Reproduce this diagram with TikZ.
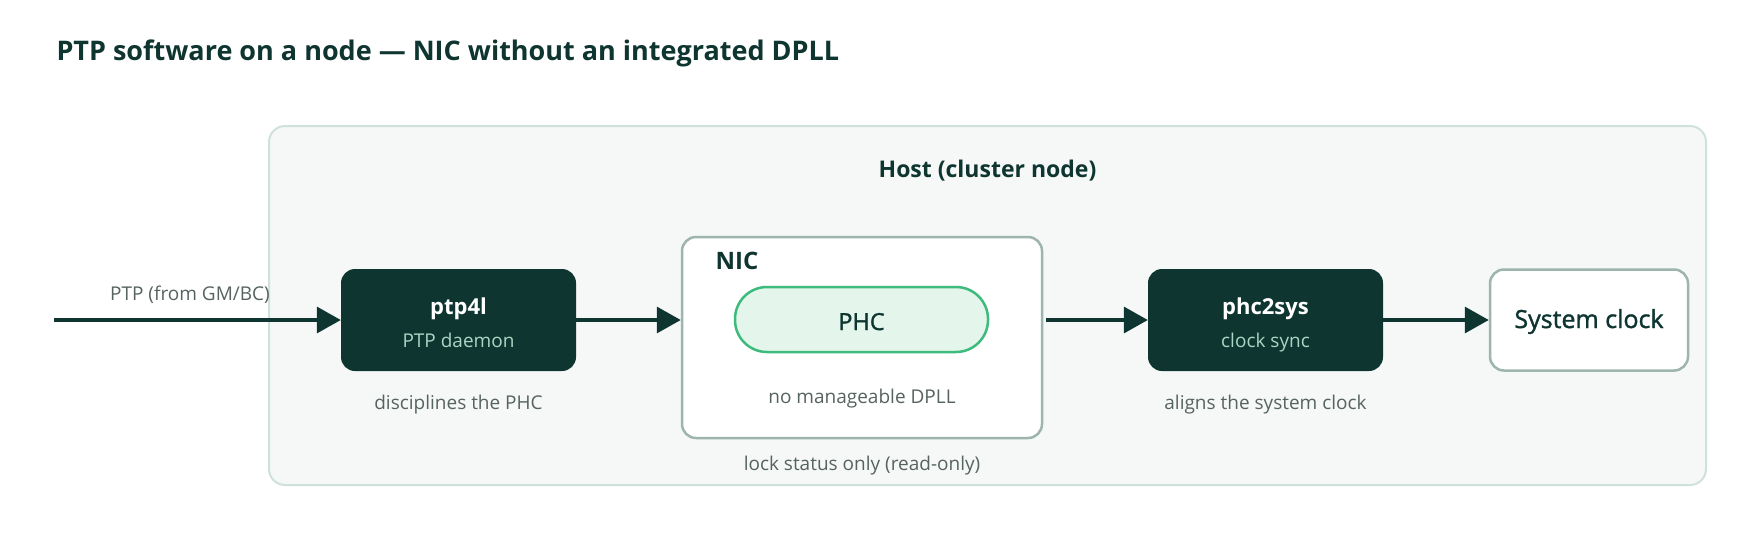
\documentclass[tikz,border=0pt]{standalone}
\usepackage{fontspec}
\setmainfont{Open Sans}
\newfontfamily\medfont{Open Sans}[FakeBold=1.4]
\usetikzlibrary{arrows.meta}
\definecolor{deep}{HTML}{0E3530}
\definecolor{notegray}{HTML}{56635F}
\definecolor{mint}{HTML}{A9D6C2}
\definecolor{hostfill}{HTML}{F5F8F7}
\definecolor{hostline}{HTML}{CFE2DA}
\definecolor{boxline}{HTML}{9DB5AC}
\definecolor{phcfill}{HTML}{E4F6EC}
\definecolor{phcline}{HTML}{3DBB7D}

\begin{document}
\begin{tikzpicture}
  [x=1pt,y=-1pt,
   darkbox/.style={fill=deep,rounded corners=14pt,minimum width=235pt,minimum height=102pt,inner sep=0pt},
   lightbox/.style={fill=white,draw=boxline,line width=2.5pt,rounded corners=14pt,inner sep=0pt},
   boxname/.style={anchor=base,text=white,font=\fontsize{22}{22}\bfseries},
   boxsub/.style={anchor=base,text=mint,font=\fontsize{19}{19}\selectfont},
   heading/.style={anchor=base,text=deep,font=\fontsize{23}{23}\bfseries},
   note/.style={anchor=base,text=notegray,font=\fontsize{19}{19}\selectfont},
   flow/.style={draw=deep,line width=3.5pt,-{Triangle[length=24pt,width=26pt]}}]
  \useasboundingbox (0,0) rectangle (1760,539);

  \node[anchor=base west,text=deep,font=\fontsize{27}{27}\bfseries] (title) at (53,60)
    {PTP software on a node — NIC without an integrated DPLL};

  \node[fill=hostfill,draw=hostline,line width=2pt,rounded corners=16pt,
        minimum width=1437pt,minimum height=359pt] (host) at (987.5,305.5) {};
  \node[heading] (hostname) at (987.5,177) {Host (cluster node)};

  \node[darkbox] (ptp4l) at (458.5,320) {};
  \node[boxname] (ptp4lname) at (458.5,314) {ptp4l};
  \node[boxsub] (ptp4lsub) at (458.5,347) {PTP daemon};
  \node[note] (ptp4lnote) at (458.5,409) {disciplines the PHC};

  \node[lightbox,minimum width=360pt,minimum height=201pt] (nic) at (862,337.5) {};
  \node[heading,anchor=base west,font=\fontsize{24}{24}\bfseries] (nicname) at (712,269) {NIC};
  \node[fill=phcfill,draw=phcline,line width=2.5pt,rounded corners=32pt,
        minimum width=253pt,minimum height=65pt] (phc) at (861.5,319.5) {};
  \node[anchor=base,text=deep,font=\fontsize{23.5}{23.5}\medfont] (phcname) at (861.5,330) {PHC};
  \node[note] (nicnote) at (862,403) {no manageable DPLL};
  \node[note] (locknote) at (862,470) {lock status only (read-only)};

  \node[darkbox] (phc2sys) at (1265.5,320) {};
  \node[boxname] (phc2sysname) at (1265.5,314) {phc2sys};
  \node[boxsub] (phc2syssub) at (1265.5,347) {clock sync};
  \node[note] (phc2sysnote) at (1265.5,409) {aligns the system clock};

  \node[lightbox,minimum width=198pt,minimum height=101pt] (sysclk) at (1589,320) {};
  \node[anchor=base,text=deep,font=\fontsize{25}{25}\medfont] (sysclkname) at (1589,328) {System clock};

  \coordinate (gm) at (54,320);
  \node[note] (gmnote) at (190,300) {PTP (from GM/BC)};

  \draw[flow] (gm) -- (ptp4l);
  \draw[flow] (ptp4l) -- (ptp4l.east -| nic.west);
  \draw[flow] ([xshift=3pt]nic.east |- phc2sys.west) -- (phc2sys);
  \draw[flow] (phc2sys) -- (sysclk);
\end{tikzpicture}
\end{document}
